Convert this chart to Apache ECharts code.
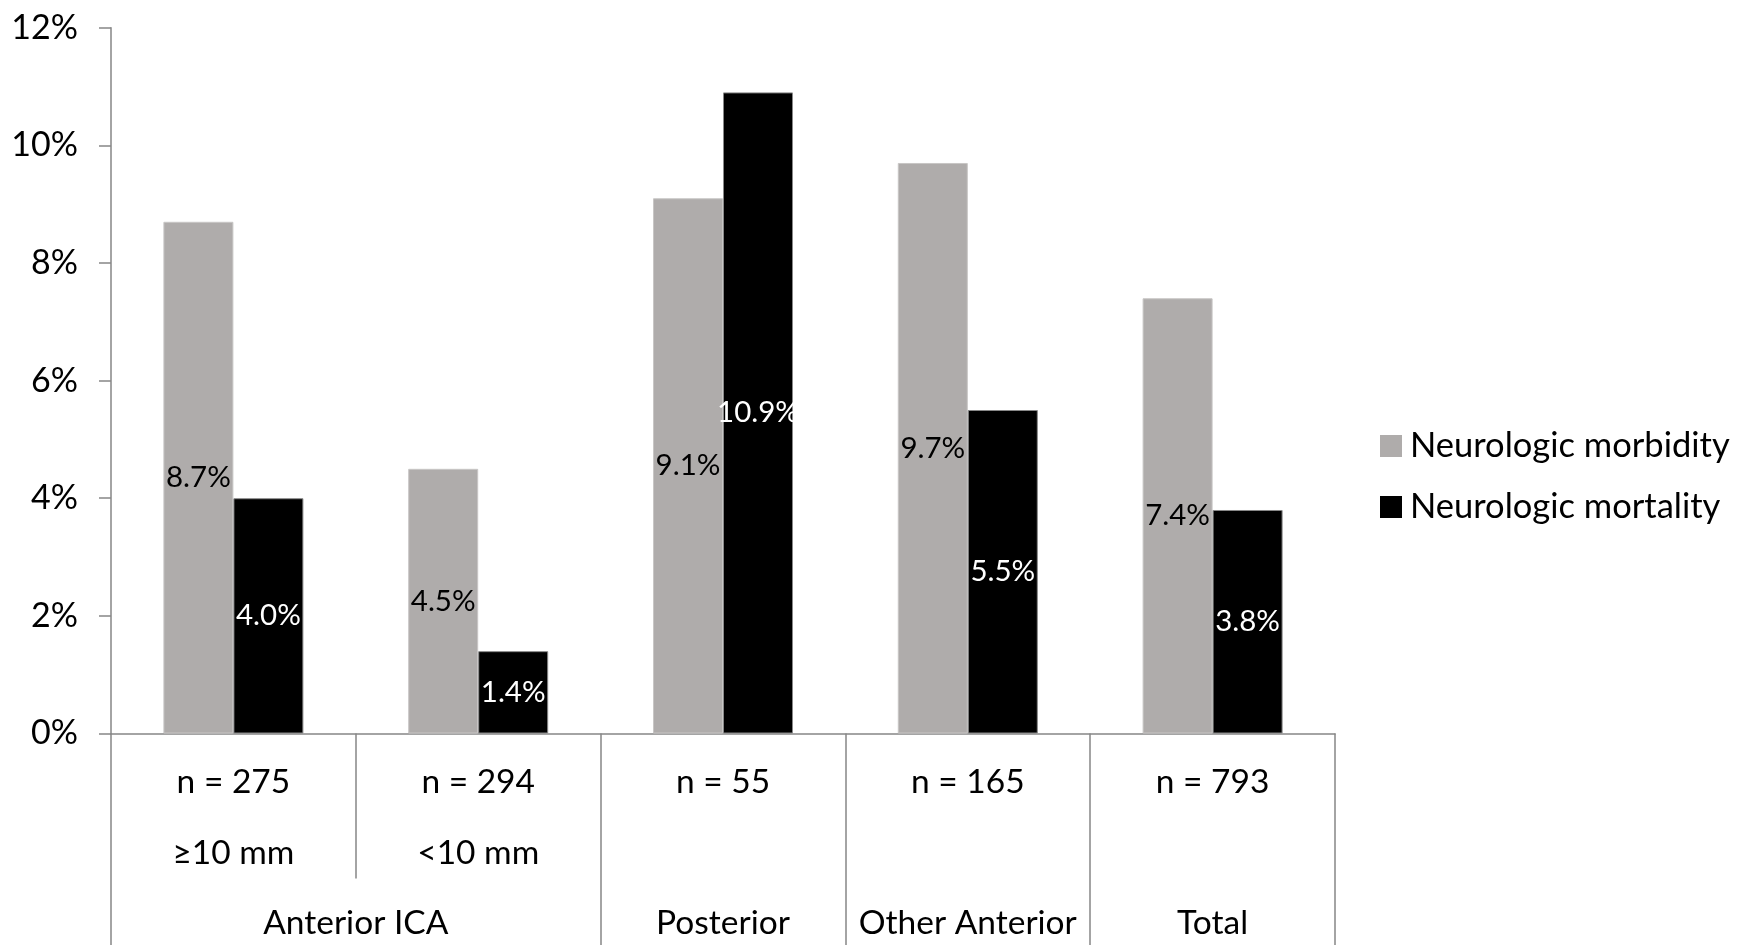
<!DOCTYPE html>
<html>
<head>
<meta charset="utf-8">
<script src="https://cdn.jsdelivr.net/npm/echarts@6/dist/echarts.min.js"></script>
<style>
html,body{margin:0;padding:0;background:#fff;}
#chart{width:1740px;height:945px;}
</style>
</head>
<body>
<div id="chart"></div>
<script>
const nLabels = ['n = 275', 'n = 294', 'n = 55', 'n = 165', 'n = 793'];
const sizeLabels = ['≥10 mm', '<10 mm', '', '', ''];
const groupLabels = ['Anterior ICA', 'Posterior', 'Other Anterior', 'Total'];
const groupCenters = [1, 2.5, 3.5, 4.5];
const groupBounds = [0, 2, 3, 4, 5];
const seriesNames = ['Neurologic morbidity', 'Neurologic mortality'];
const morbidity = [8.7, 4.5, 9.1, 9.7, 7.4];
const mortality = [4.0, 1.4, 10.9, 5.5, 3.8];
const yTicks = [0, 2, 4, 6, 8, 10, 12];

const FONT = 'Lato';
const AXIS_GRAY = '#868686';
const categories = nLabels.map((n, i) => sizeLabels[i] ? n + '\n' + sizeLabels[i] : n);

const chart = echarts.init(document.getElementById('chart'), null, {renderer: 'canvas'});
chart.setOption({
  animation: false,
  backgroundColor: '#fff',
  textStyle: {fontFamily: FONT},
  grid: {left: 111, right: 405, top: 27.7, bottom: 211.5, containLabel: false},
  legend: {
    orient: 'vertical',
    left: 1375,
    top: 423,
    itemWidth: 22,
    itemHeight: 22,
    itemGap: 25,
    icon: 'rect',
    itemStyle: {borderWidth: 0},
    textStyle: {fontFamily: FONT, fontSize: 34.5, color: '#000', lineHeight: 36, padding: [0, 0, 0, 3]},
    data: seriesNames
  },
  xAxis: [
    {
      type: 'category',
      data: categories,
      position: 'bottom',
      axisLine: {show: true, lineStyle: {color: AXIS_GRAY, width: 1.5}},
      axisTick: {show: true, interval: 0, length: 145, lineStyle: {color: AXIS_GRAY, width: 1.5}},
      axisLabel: {
        interval: 0,
        margin: 13,
        fontFamily: FONT,
        fontSize: 33.5,
        color: '#000',
        lineHeight: 71
      }
    },
    {
      type: 'value',
      min: 0,
      max: 5,
      position: 'bottom',
      axisLine: {show: false},
      splitLine: {show: false},
      axisTick: {show: true, customValues: groupBounds, length: 212, lineStyle: {color: AXIS_GRAY, width: 1.5}},
      axisLabel: {
        customValues: groupCenters,
        margin: 173,
        fontFamily: FONT,
        fontSize: 33.5,
        color: '#000',
        formatter: function (v) {
          const idx = groupCenters.indexOf(v);
          return idx >= 0 ? groupLabels[idx] : '';
        }
      }
    }
  ],
  yAxis: {
    type: 'value',
    min: yTicks[0],
    max: yTicks[yTicks.length - 1],
    interval: 2,
    axisLine: {show: true, lineStyle: {color: AXIS_GRAY, width: 1.5}},
    axisTick: {show: true, length: 12, lineStyle: {color: AXIS_GRAY, width: 1.5}},
    splitLine: {show: false},
    axisLabel: {margin: 33, fontFamily: FONT, fontSize: 34, color: '#000', formatter: '{value}%'}
  },
  series: [
    {
      name: seriesNames[0],
      type: 'bar',
      data: morbidity,
      barWidth: 70,
      barGap: '0%',
      itemStyle: {color: '#AFACAB', borderColor: '#C8C6C5', borderWidth: 1},
      label: {show: true, position: 'inside', color: '#000', fontFamily: FONT, fontSize: 29.5,
        formatter: p => p.value.toFixed(1) + '%'}
    },
    {
      name: seriesNames[1],
      type: 'bar',
      data: mortality,
      barWidth: 70,
      barGap: '0%',
      itemStyle: {color: '#000', borderColor: '#888', borderWidth: 1},
      label: {show: true, position: 'inside', color: '#fff', fontFamily: FONT, fontSize: 29.5,
        formatter: p => p.value.toFixed(1) + '%'}
    }
  ]
});
</script>
</body>
</html>
